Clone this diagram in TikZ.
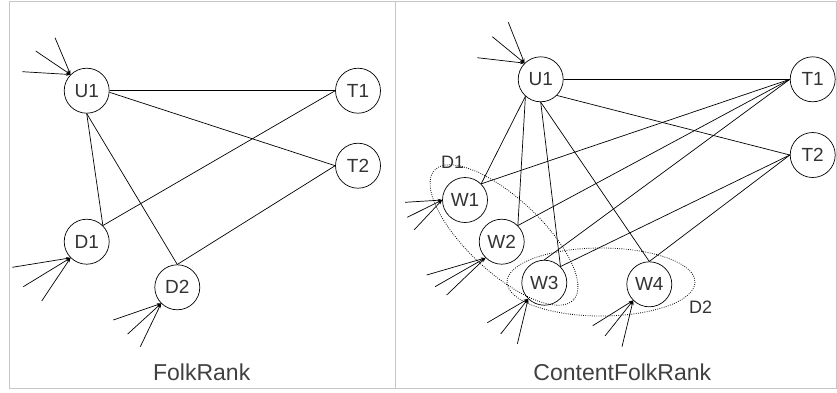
\documentclass[tikz,border=0pt]{standalone}
\usepackage{fontspec}
\setmainfont{Liberation Sans}
\usetikzlibrary{arrows.meta}

\begin{document}
\begin{tikzpicture}[x=1pt, y=-1pt,
  vertex/.style={draw, circle, minimum size=45pt, inner sep=0pt, line width=0.7pt, font=\fontsize{19}{19}\selectfont, text=black!80},
  link/.style={line width=0.7pt},
  feed/.style={-{Stealth[length=4.5pt,width=3pt]}, line width=0.7pt},
  group/.style={dash pattern=on 0.8pt off 1.4pt, line width=0.8pt},
  caption/.style={font=\fontsize{23}{23}\selectfont, text=black!75}]
\useasboundingbox (0,0) rectangle (837,392);
\draw[black!22, line width=1pt] (9,1) rectangle (836,388) (395.5,1) -- (395.5,388);

% FolkRank
\node[vertex] (u1) at (86.7,90.7) {U1};
\node[vertex] (t1) at (358,90.7) {T1};
\node[vertex] (t2) at (358,165.7) {T2};
\node[vertex] (d1) at (86.7,241.7) {D1};
\node[vertex] (d2) at (177.3,287.3) {D2};
\draw[link] (u1.east) -- (t1.west);
\draw[link] (u1.-4) -- (t2.west);
\draw[link] (u1.south) -- (d1.45);
\draw[link] (u1.south) -- (d2.north);
\draw[link] (d1.45) -- (t1.west);
\draw[link] (d2.north) -- (t2.west);
\node[caption] (folk) at (201.7,372) {FolkRank};

% ContentFolkRank
\node[vertex] (cu1) at (540.7,79.3) {U1};
\node[vertex] (ct1) at (812.7,79.3) {T1};
\node[vertex] (ct2) at (812.7,155) {T2};
\node[vertex] (w1) at (465,200) {W1};
\node[vertex] (w2) at (501.7,241.7) {W2};
\node[vertex] (w3) at (544.3,282.7) {W3};
\node[vertex] (w4) at (649.3,284.3) {W4};
\draw[link] (cu1.east) -- (ct1.west);
\draw[link] (cu1.-45) -- (ct2.west);
\draw[link] (cu1.228) -- (w1.45);
\draw[link] (cu1.228) -- (w2.45);
\draw[link] (cu1.south) -- (w3.45);
\draw[link] (cu1.south) -- (w4.north);
\draw[link] (ct1.west) -- (w1.45);
\draw[link] (ct1.west) -- (w2.45);
\draw[link] (ct1.west) -- (w3.north);
\draw[link] (ct2.west) -- (w3.45);
\draw[link] (ct2.west) -- (w4.north);
\draw[group, rotate around={-43:(504,235)}] (504,235) ellipse [x radius=95, y radius=37];
\draw[group] (601,282) ellipse [x radius=94, y radius=34];
\node[font=\fontsize{18}{18}\selectfont, text=black!80] (g1) at (452.7,162.3) {D1};
\node[font=\fontsize{18}{18}\selectfont, text=black!80] (g2) at (700.7,307.3) {D2};
\node[caption] (content) at (622.3,372) {ContentFolkRank};

% incoming
\foreach \n/\t/\a/\x/\y in {
  a/u1/135/55/37.7, b/u1/135/35.7/51, c/u1/135/22.3/71.7,
  d/d1/225/12.3/267.3, e/d1/225/23.3/286.7, f/d1/225/41.7/301,
  g/d2/225/113.3/320, h/d2/225/127.7/334, i/d2/225/140.3/346.7,
  j/cu1/135/508.3/22.3, k/cu1/135/492.3/36.7, l/cu1/135/477.3/57.7,
  m/w1/180/405/202.3, n/w1/180/407.3/217.3, o/w1/180/414/230,
  p/w2/225/426.7/275, q/w2/225/435/286.7, r/w2/225/446.7/295,
  s/w3/225/487.3/322.7, t/w3/225/500.7/334, u/w3/225/517.3/344,
  v/w4/225/592.7/325.7, w/w4/225/605/336, x/w4/225/622/346.7}
{
  \coordinate (in-\n) at (\x,\y);
  \draw[feed] (in-\n) -- (\t.\a);
}
\end{tikzpicture}
\end{document}
